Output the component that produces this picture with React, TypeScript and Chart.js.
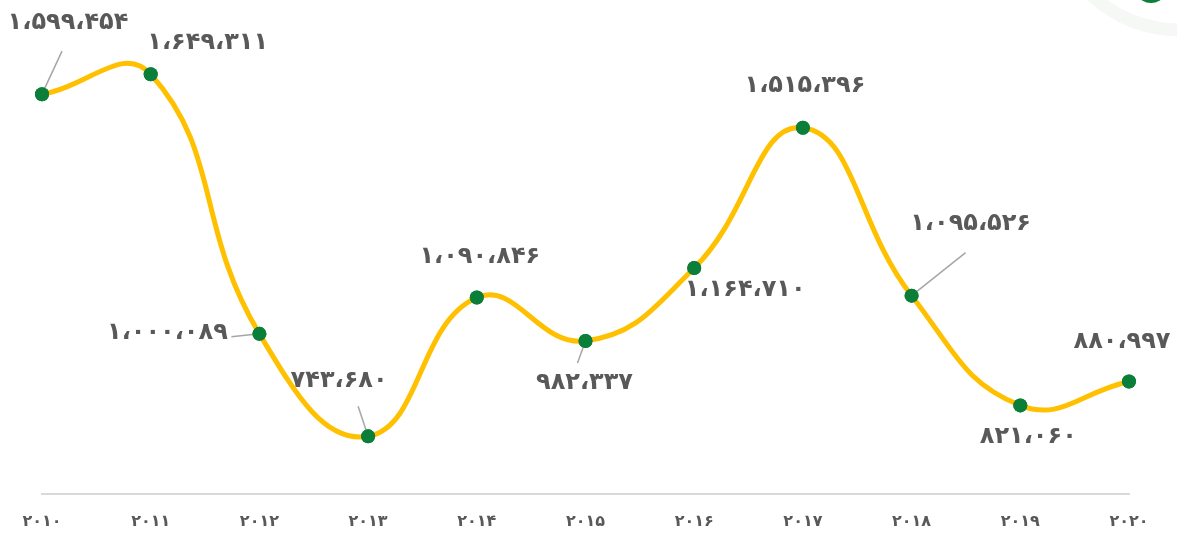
import React, { useEffect, useRef } from "react";
import { Chart, registerables } from "chart.js";

Chart.register(...registerables);

const years: string[] = ["۲۰۱۰", "۲۰۱۱", "۲۰۱۲", "۲۰۱۳", "۲۰۱۴", "۲۰۱۵", "۲۰۱۶", "۲۰۱۷", "۲۰۱۸", "۲۰۱۹", "۲۰۲۰"];
const values: number[] = [1599454, 1649311, 1000089, 743680, 1090846, 982337, 1164710, 1515396, 1095526, 821060, 880997];
const valueLabels: string[] = [
  "۱،۵۹۹،۴۵۴", "۱،۶۴۹،۳۱۱", "۱،۰۰۰،۰۸۹", "۷۴۳،۶۸۰", "۱،۰۹۰،۸۴۶", "۹۸۲،۳۳۷",
  "۱،۱۶۴،۷۱۰", "۱،۵۱۵،۳۹۶", "۱،۰۹۵،۵۲۶", "۸۲۱،۰۶۰", "۸۸۰،۹۹۷",
];
// label offsets from the point (dx, dy) and optional leader line end
const labelOffsets: [number, number][] = [
  [26, -71], [57, -31], [-92, -1], [-29, -56], [3, -41], [-1, 42], [51, 22], [2, -42], [59, -72], [8, 31], [-7, -40],
];
const leaderEnds: ([number, number] | null)[] = [
  [20, -43], null, [-28, 3], [-10, -30], null, [-8, 22], null, null, [54, -43], null, null,
];

const FONT = "'DejaVu Sans', 'Noto Sans', sans-serif";

const labelPlugin = {
  id: "valueLabels",
  afterDatasetsDraw(chart: any) {
    const ctx = chart.ctx;
    const meta = chart.getDatasetMeta(0);
    ctx.save();
    meta.data.forEach((pt: any, i: number) => {
      const le = leaderEnds[i];
      if (le) {
        ctx.strokeStyle = "#a6a6a6";
        ctx.lineWidth = 1.5;
        ctx.beginPath();
        ctx.moveTo(pt.x, pt.y);
        ctx.lineTo(pt.x + le[0], pt.y + le[1]);
        ctx.stroke();
      }
    });
    meta.data.forEach((pt: any) => {
      ctx.fillStyle = "#0b7f3a";
      ctx.beginPath();
      ctx.arc(pt.x, pt.y, 7, 0, Math.PI * 2);
      ctx.fill();
    });
    ctx.fillStyle = "#595959";
    ctx.font = `bold 24px ${FONT}`;
    ctx.textAlign = "center";
    ctx.textBaseline = "middle";
    meta.data.forEach((pt: any, i: number) => {
      const o = labelOffsets[i];
      ctx.fillText(valueLabels[i], pt.x + o[0], pt.y + o[1]);
    });
    ctx.restore();
  },
};

const decoPlugin = {
  id: "deco",
  beforeDraw(chart: any) {
    const ctx = chart.ctx;
    ctx.save();
    ctx.fillStyle = "#ffffff";
    ctx.fillRect(0, 0, chart.width, chart.height);
    ctx.strokeStyle = "#f6f8f6";
    ctx.lineWidth = 13;
    ctx.beginPath();
    ctx.arc(1180, -100, 130, 0, Math.PI);
    ctx.stroke();
    ctx.fillStyle = "#0b7f3a";
    ctx.beginPath();
    ctx.ellipse(1151, -30, 23, 33, 0, 0, Math.PI * 2);
    ctx.fill();
    ctx.restore();
  },
};

export default function App() {
  const ref = useRef<HTMLCanvasElement>(null);
  useEffect(() => {
    document.body.style.margin = "0";
    const chart = new Chart(ref.current as HTMLCanvasElement, {
      type: "line",
      data: {
        labels: years,
        datasets: [
          {
            data: values,
            borderColor: "#ffc000",
            borderWidth: 5,
            tension: 0.45,
            pointRadius: 7,
            pointBackgroundColor: "#0b7f3a",
            pointBorderColor: "#0b7f3a",
            pointBorderWidth: 0,
            clip: false as any,
          },
        ],
      },
      options: {
        responsive: false,
        animation: false,
        layout: { padding: { left: 42, right: 48, top: 14, bottom: -14 } },
        plugins: { legend: { display: false }, tooltip: { enabled: false } },
        scales: {
          x: {
            offset: false,
            grid: { display: false, drawTicks: false },
            border: { display: true, color: "#d9d9d9", width: 2 },
            ticks: {
              color: "#595959",
              padding: 18,
              font: { family: FONT, size: 16, weight: "bold" },
              maxRotation: 0,
              autoSkip: false,
            },
          },
          y: { display: false, min: 600000, max: 1800000 },
        },
      },
      plugins: [decoPlugin, labelPlugin],
    });
    return () => chart.destroy();
  }, []);
  return (
    <div style={{ position: "absolute", left: 0, top: 0, width: 1177, height: 535 }}>
      <canvas ref={ref} width={1177} height={535} />
    </div>
  );
}
